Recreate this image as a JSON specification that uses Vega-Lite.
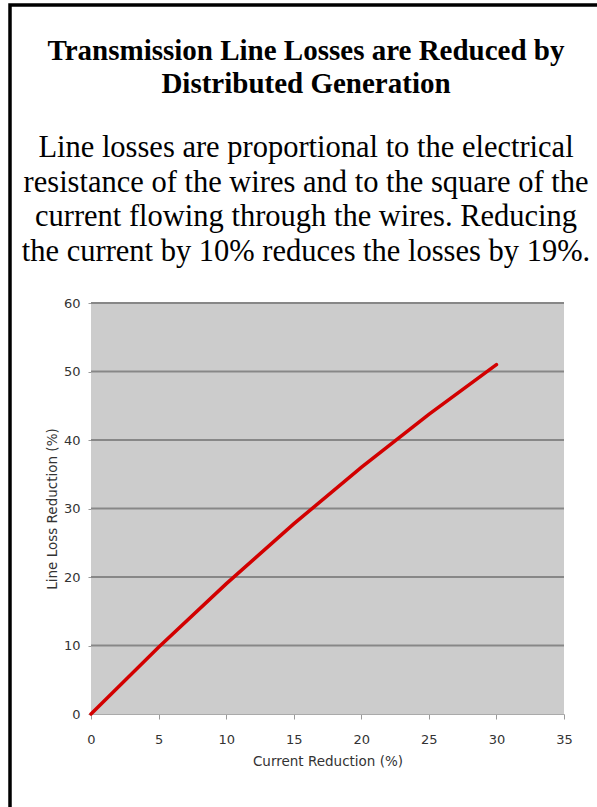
{
  "$schema": "https://vega.github.io/schema/vega-lite/v6.json",
  "width": 592,
  "height": 810,
  "autosize": {"type": "none"},
  "padding": {"left": 10, "top": 5, "right": 0, "bottom": 0},
  "background": "white",
  "config": {
    "view": {"stroke": "black", "strokeWidth": 3.5, "fill": "white"},
    "axis": {
      "labelFont": "DejaVu Sans",
      "labelFontSize": 13,
      "labelColor": "#333333",
      "titleFont": "DejaVu Sans",
      "titleFontSize": 13.5,
      "titleFontWeight": "normal",
      "titleColor": "#333333",
      "tickColor": "#9a9a9a",
      "domainColor": "#9a9a9a",
      "grid": false
    }
  },
  "title": {
    "text": ["Transmission Line Losses are Reduced by", "Distributed Generation"],
    "subtitle": [
      "Line losses are proportional to the electrical",
      "resistance of the wires and to the square of the",
      "current flowing through the wires. Reducing",
      "the current by 10% reduces the losses by 19%."
    ],
    "frame": "group",
    "anchor": "middle",
    "orient": "top",
    "offset": -262,
    "font": "Liberation Serif",
    "fontSize": 29,
    "fontWeight": "bold",
    "lineHeight": 33,
    "color": "black",
    "subtitleFont": "Liberation Serif",
    "subtitleFontSize": 30.5,
    "subtitleLineHeight": 34.5,
    "subtitleColor": "black",
    "subtitlePadding": 34
  },
  "layer": [
    {
      "description": "grey plotting area",
      "data": {"values": [{}]},
      "mark": {"type": "rect", "fill": "#cccccc"},
      "encoding": {
        "x": {"datum": 0, "type": "quantitative"},
        "x2": {"datum": 35},
        "y": {"datum": 0, "type": "quantitative"},
        "y2": {"datum": 60}
      }
    },
    {
      "description": "horizontal gridlines",
      "data": {"values": [{"tick": 10}, {"tick": 20}, {"tick": 30}, {"tick": 40}, {"tick": 50}, {"tick": 60}]},
      "mark": {"type": "rule", "color": "#878787", "strokeWidth": 1.8},
      "encoding": {
        "x": {"datum": 0, "type": "quantitative"},
        "x2": {"datum": 35},
        "y": {"field": "tick", "type": "quantitative"}
      }
    },
    {
      "description": "loss reduction curve",
      "data": {
        "values": [
          {"current": 0, "loss": 0},
          {"current": 5, "loss": 9.75},
          {"current": 10, "loss": 19},
          {"current": 15, "loss": 27.75},
          {"current": 20, "loss": 36},
          {"current": 25, "loss": 43.75},
          {"current": 30, "loss": 51}
        ]
      },
      "mark": {"type": "line", "color": "#d20000", "strokeWidth": 3.5, "strokeCap": "round"},
      "encoding": {
        "x": {
          "field": "current",
          "type": "quantitative",
          "scale": {"domain": [0, 35], "range": [81, 554], "nice": false, "zero": false},
          "axis": {
            "title": "Current Reduction (%)",
            "orient": "bottom",
            "offset": -101,
            "values": [0, 5, 10, 15, 20, 25, 30, 35],
            "labelFlush": false,
            "tickSize": 5,
            "labelPadding": 14,
            "titlePadding": 8,
            "domainColor": "#aaaaaa"
          }
        },
        "y": {
          "field": "loss",
          "type": "quantitative",
          "scale": {"domain": [0, 60], "range": [709, 298], "nice": false, "zero": false},
          "axis": {
            "title": "Line Loss Reduction (%)",
            "orient": "left",
            "offset": -81,
            "values": [0, 10, 20, 30, 40, 50, 60],
            "tickSize": 3,
            "labelPadding": 8,
            "titlePadding": 4
          }
        }
      }
    }
  ]
}
